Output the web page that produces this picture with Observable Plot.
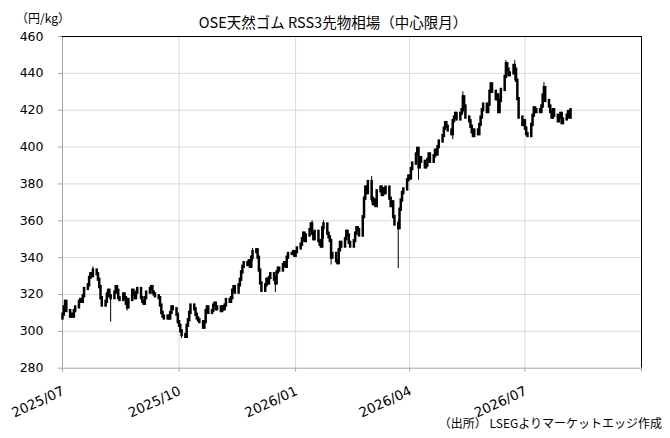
<!DOCTYPE html>
<html><head><meta charset="utf-8">
<script src="https://cdn.jsdelivr.net/npm/d3@7"></script>
<script src="https://cdn.jsdelivr.net/npm/@observablehq/plot@0.6"></script>
<style>
body{margin:0;background:#fff;}
#wrap{position:relative;width:670px;height:438px;overflow:hidden;background:#fff;}
#wrap svg{position:absolute;left:0;top:0;}
.t{position:absolute;white-space:nowrap;font-family:"Noto Sans CJK JP",sans-serif;color:#000;line-height:1;z-index:2;}
</style></head><body>
<div id="wrap">
<div class="t" style="left:16px;top:12px;font-size:12px;">（円/kg）</div>
<div class="t" style="left:0;width:666px;text-align:center;top:15px;font-size:14.5px;">OSE天然ゴム RSS3先物相場（中心限月）</div>
<div class="t" style="right:8px;top:417px;font-size:12px;">（出所） LSEGよりマーケットエッジ作成</div>
</div>
<script>
// ---- data ----
const startDate = "2025-07-01";   // first trading day (weekdays follow)
const firstOpen = 307;
const closes = [
  309,313,316,311,            // Jul 1-4 2025
  308,309,308,311,313,
  316,317,316,319,323,
  325,329,331,330,333,
  331,328,324,318,314,
  316,320,322,319,318,        // Aug 4-8
  321,324,322,318,317,
  320,318,315,313,317,
  322,320,318,321,323,
  318,316,315,318,321,        // Sep 1-5
  323,324,321,320,319,
  318,314,310,308,307,
  308,307,310,313,312,
  309,305,303,300,298,        // Sep 29 - Oct 3
  297,303,306,310,314,
  312,309,307,306,305,
  302,305,311,313,310,
  311,314,315,312,313,
  311,313,312,314,317,        // Nov 3-7
  316,318,322,324,321,
  325,328,332,335,337,
  336,338,335,340,343,
  344,340,333,326,322,        // Dec 1-5
  325,328,326,329,331,
  328,326,332,334,333,
  336,337,335,340,342,
  342,343,341,343,345,        // Dec 29 - Jan 2
  347,350,353,349,352,
  355,358,353,350,354,
  349,347,346,356,358,
  353,351,349,340,342,
  338,337,344,348,346,        // Feb 2-6
  350,354,352,348,346,
  349,353,356,355,352,
  362,372,378,375,381,
  372,369,371,368,376,        // Mar 2-6
  378,374,377,375,378,
  372,368,370,362,358,
  356,366,371,375,377,
  382,384,383,388,391,        // Mar 30 - Apr 3
  396,399,389,394,392,
  389,390,393,396,392,
  395,398,396,400,403,
  406,410,413,411,409,        // Apr 27 - May 1
  407,414,416,418,415,
  418,420,427,422,416,
  414,411,408,406,409,
  407,412,416,420,423,
  419,423,430,434,430,        // Jun 1-5
  426,428,419,425,431,
  438,445,442,439,440,
  444,442,436,426,416,
  412,414,410,407,406,        // Jun 29 - Jul 3
  412,417,421,419,420,
  419,422,428,432,425,
  422,419,416,420,417,
  414,416,418,413,415,
  417,419,416,420             // Aug 3-6 2026
];
const wickDates = ["2025-07-25","2025-08-08","2025-08-21","2025-10-03","2025-11-28","2025-12-16",
  "2026-01-14","2026-01-23","2026-01-29","2026-03-02","2026-03-23","2026-04-08","2026-05-05",
  "2026-05-13","2026-06-16","2026-06-23","2026-07-16"];
const wickLow  = [329,305,311,296,338,321,352,350,336,370,334,382,404,418,438,436,425];
const wickHigh = [335,320,318,301,345,330,360,360,350,384,360,398,415,430,447,447,435];
const yTicks = [280,300,320,340,360,380,400,420,440,460];
const quarterTicks = ["2025-07-01","2025-10-01","2026-01-01","2026-04-01","2026-07-01","2026-10-01"];
const tickLabels = ["2025/07","2025/10","2026/01","2026/04","2026/07"];

// ---- build ----
const utc = s => new Date(s + "T00:00:00Z");
const dates = [];
for (let d = utc(startDate); dates.length < closes.length; d = new Date(d.getTime() + 86400000)) {
  const wd = d.getUTCDay();
  if (wd !== 0 && wd !== 6) dates.push(d);
}
const candles = closes.map((c, i) => {
  const o = i ? closes[i - 1] : firstOpen;
  return {date: dates[i], lo: Math.min(o, c), hi: Math.max(o, c)};
});
const wicks = wickDates.map((s, i) => ({date: utc(s), lo: wickLow[i], hi: wickHigh[i]}));
const qDates = quarterTicks.map(utc);
const labels = tickLabels.map((t, i) => ({date: qDates[i], label: t}));

const chart = Plot.plot({
  width: 670, height: 438,
  marginLeft: 62, marginRight: 29, marginTop: 36, marginBottom: 70.3,
  style: {fontFamily: "DejaVu Sans, sans-serif", fontSize: "12.5px", background: "transparent", color: "#000"},
  x: {type: "utc", domain: [qDates[0], qDates[qDates.length - 1]], label: null},
  y: {domain: [280, 460], label: null},
  marks: [
    Plot.gridY(yTicks.slice(1, -1), {stroke: "#d9d9d9", strokeOpacity: 1}),
    Plot.gridX(qDates.slice(1, -1), {stroke: "#d9d9d9", strokeOpacity: 1}),
    Plot.ruleY([280], {stroke: "#a6a6a6"}),
    Plot.ruleX([qDates[0]], {stroke: "#a6a6a6"}),
    Plot.ruleY([460], {stroke: "#000"}),
    Plot.ruleX([qDates[qDates.length - 1]], {stroke: "#000"}),
    Plot.axisY(yTicks, {tickSize: 4, tickPadding: 15, stroke: "#a6a6a6", fill: "#000", fontSize: 12.5, label: null}),
    Plot.axisX(qDates, {tickSize: 4, tickFormat: () => "", stroke: "#a6a6a6", label: null}),
    Plot.text(labels, {x: "date", text: "label", frameAnchor: "bottom", dy: 22, dx: 1, rotate: -25,
      textAnchor: "end", lineAnchor: "middle", fontSize: 13.5, fill: "#000"}),
    Plot.ruleX(wicks, {x: "date", y1: "lo", y2: "hi", stroke: "#000", strokeWidth: 1}),
    Plot.ruleX(candles, {x: "date", y1: d => d.lo - 0.9, y2: d => d.hi + 0.9, stroke: "#000", strokeWidth: 2.5})
  ]
});
document.getElementById("wrap").prepend(chart);
</script>
</body></html>
